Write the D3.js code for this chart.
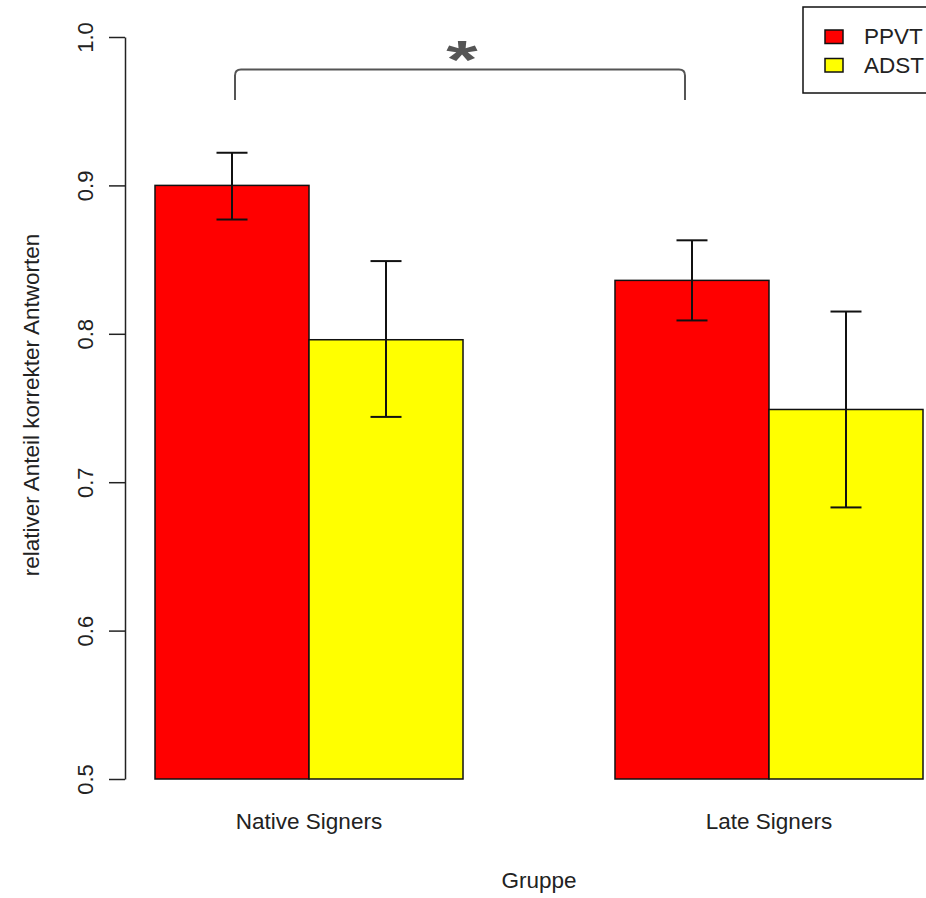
<!DOCTYPE html>
<html>
<head>
<meta charset="utf-8">
<script src="https://cdn.jsdelivr.net/npm/d3@7"></script>
<style>
  html, body { margin: 0; padding: 0; background: #fff; }
  svg { display: block; font-family: "Liberation Sans", Arial, sans-serif; }
</style>
</head>
<body>
<svg id="chart" width="926" height="898"></svg>
<script>
// ---- data ----
const groups = ["Native Signers", "Late Signers"];
const series = ["PPVT", "ADST"];
const seriesColors = ["#ff0000", "#ffff00"];
const ppvtValues = [0.900, 0.836];
const adstValues = [0.796, 0.749];
const ppvtLower = [0.877, 0.809];
const ppvtUpper = [0.922, 0.863];
const adstLower = [0.744, 0.683];
const adstUpper = [0.849, 0.815];
const yTicks = [0.5, 0.6, 0.7, 0.8, 0.9, 1.0];
const yTickLabels = ["0.5", "0.6", "0.7", "0.8", "0.9", "1.0"];
const yLabel = "relativer Anteil korrekter Antworten";
const xLabel = "Gruppe";
const sigLabel = "*";

const rows = [];
groups.forEach((g, i) => {
  rows.push({ group: g, series: "PPVT", value: ppvtValues[i], lo: ppvtLower[i], hi: ppvtUpper[i] });
  rows.push({ group: g, series: "ADST", value: adstValues[i], lo: adstLower[i], hi: adstUpper[i] });
});

const svg = d3.select("#chart");
const textColor = "#222";

const y = d3.scaleLinear().domain([0.5, 1.0]).range([779, 37]);
const x0 = d3.scaleBand().domain(groups).range([155, 923]).paddingInner(0.3304).paddingOuter(0);
const x1 = d3.scaleBand().domain(series).range([0, x0.bandwidth()]);
const color = d3.scaleOrdinal().domain(series).range(seriesColors);

// bars
svg.append("g").selectAll("rect").data(rows).join("rect")
  .attr("x", d => x0(d.group) + x1(d.series))
  .attr("y", d => y(d.value))
  .attr("width", x1.bandwidth())
  .attr("height", d => y(0.5) - y(d.value))
  .attr("fill", d => color(d.series))
  .attr("stroke", "#111")
  .attr("stroke-width", 1.5);

// error bars
const capW = 31;
const eb = svg.append("g").attr("stroke", "#111").attr("stroke-width", 2).attr("fill", "none");
rows.forEach(d => {
  const cx = x0(d.group) + x1(d.series) + x1.bandwidth() / 2;
  eb.append("line").attr("x1", cx).attr("x2", cx).attr("y1", y(d.hi)).attr("y2", y(d.lo));
  eb.append("line").attr("x1", cx - capW / 2).attr("x2", cx + capW / 2).attr("y1", y(d.hi)).attr("y2", y(d.hi));
  eb.append("line").attr("x1", cx - capW / 2).attr("x2", cx + capW / 2).attr("y1", y(d.lo)).attr("y2", y(d.lo));
});

// y axis
const yAxis = d3.axisLeft(y).tickValues(yTicks).tickFormat((d, i) => yTickLabels[i]).tickSize(16).tickSizeOuter(0);
const ag = svg.append("g").attr("transform", "translate(125,0)").call(yAxis);
ag.select(".domain").attr("stroke", "#222").attr("stroke-width", 1.5);
ag.selectAll(".tick line").attr("stroke", "#222").attr("stroke-width", 1.5);
ag.selectAll(".tick text")
  .attr("x", null).attr("dy", null)
  .attr("transform", "translate(-32,0) rotate(-90)")
  .attr("text-anchor", "middle")
  .attr("fill", textColor)
  .style("font-size", "22px")
  .style("font-family", "'Liberation Sans', Arial, sans-serif");

// x category labels
svg.append("g").selectAll("text").data(groups).join("text")
  .attr("x", d => x0(d) + x0.bandwidth() / 2)
  .attr("y", 829)
  .attr("text-anchor", "middle")
  .attr("fill", textColor)
  .style("font-size", "22.5px")
  .text(d => d);

// axis titles
svg.append("text")
  .attr("x", 539).attr("y", 888)
  .attr("text-anchor", "middle")
  .attr("fill", textColor)
  .style("font-size", "22.5px")
  .text(xLabel);

svg.append("text")
  .attr("transform", "translate(39,405) rotate(-90)")
  .attr("text-anchor", "middle")
  .attr("fill", textColor)
  .style("font-size", "22.5px")
  .text(yLabel);

// significance bracket
const bx1 = x0(groups[0]) + x1("PPVT") + 80, bx2 = x0(groups[1]) + 70;
const bTop = 69.5, bBot = 100, r = 6;
svg.append("path")
  .attr("d", `M${bx1},${bBot} L${bx1},${bTop + r} Q${bx1},${bTop} ${bx1 + r},${bTop} L${bx2 - r},${bTop} Q${bx2},${bTop} ${bx2},${bTop + r} L${bx2},${bBot}`)
  .attr("fill", "none")
  .attr("stroke", "#555")
  .attr("stroke-width", 2);
svg.append("text")
  .attr("transform", `translate(${(bx1 + bx2) / 2 + 2},78) scale(1.3,0.86)`)
  .attr("text-anchor", "middle")
  .attr("fill", "#555")
  .style("font-size", "62px")
  .style("font-weight", "bold")
  .text(sigLabel);

// legend
const lg = svg.append("g");
lg.append("rect").attr("x", 803).attr("y", 7).attr("width", 200).attr("height", 86)
  .attr("fill", "#fff").attr("stroke", "#111").attr("stroke-width", 1.5);
series.forEach((s, i) => {
  lg.append("rect").attr("x", 825).attr("y", 30 + i * 28.5).attr("width", 18).attr("height", 13.5)
    .attr("fill", color(s)).attr("stroke", "#111").attr("stroke-width", 1.5);
  lg.append("text").attr("x", 864).attr("y", 44 + i * 29)
    .attr("fill", textColor).style("font-size", "22.5px").text(s);
});
</script>
</body>
</html>
